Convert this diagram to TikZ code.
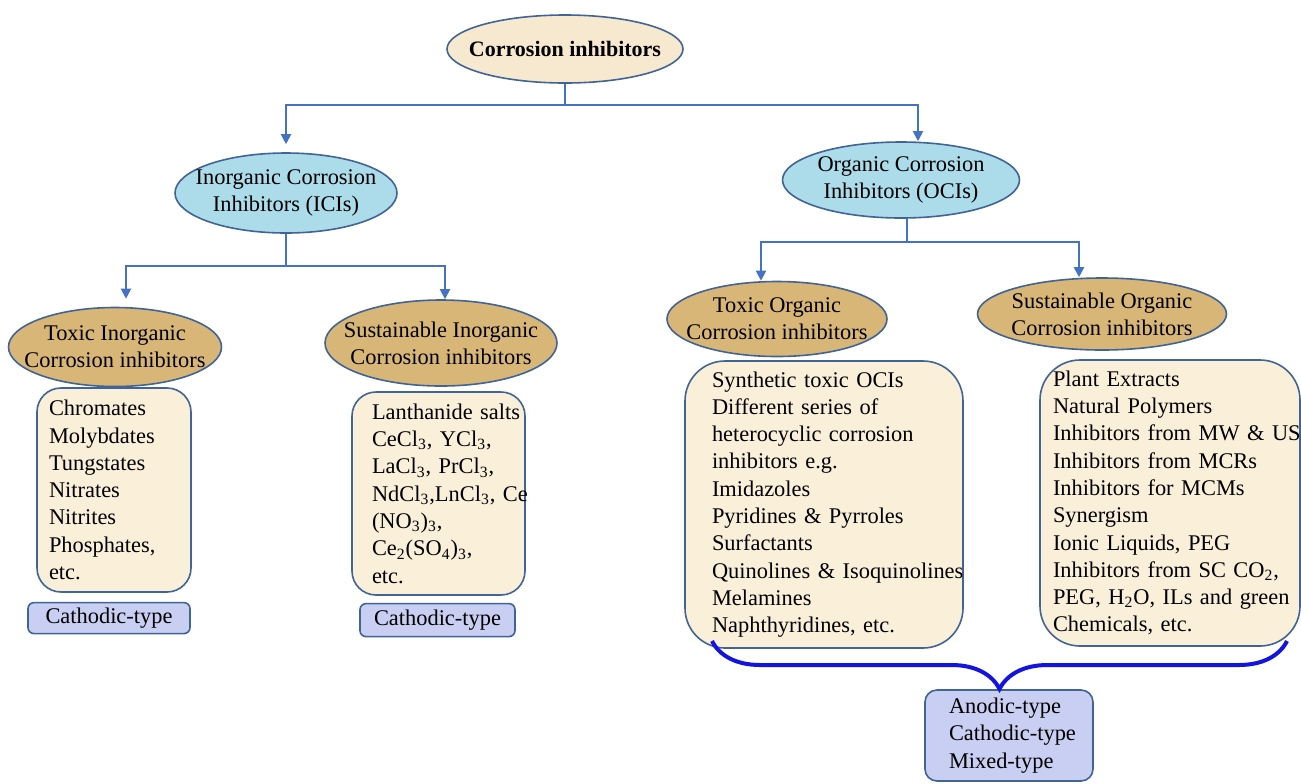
\documentclass[tikz,border=0pt]{standalone}
\usepackage{fontspec}
\setmainfont{Liberation Serif}
\usepackage{tikz}
\usetikzlibrary{
    positioning,      % For placing the type boxes below the lists
    shapes.geometric, % For the ellipse nodes
    decorations.pathreplacing, % For the large brace
    arrows.meta       % For the Triangle arrow tips
}

\definecolor{linkblue}{RGB}{68,114,196}
\definecolor{rimblue}{RGB}{65,100,150}
\definecolor{rootfill}{RGB}{247,233,207}
\definecolor{paleblue}{RGB}{172,220,233}
\definecolor{tanfill}{RGB}{216,182,120}
\definecolor{parchment}{RGB}{250,239,217}
\definecolor{lavender}{RGB}{200,207,242}
\definecolor{bracecol}{RGB}{20,20,225}

\begin{document}
\begin{tikzpicture}[
    x=0.5pt, y=-0.5pt,
    % Global text settings
    every node/.style={font=\fontsize{11.2}{13.65}\selectfont},
    % Style for all ellipses
    ellip_style/.style={
        ellipse, draw=rimblue, line width=0.8pt,
        inner xsep=-12pt, inner ysep=-4pt, align=center
    },
    % Light blue ellipses (second level)
    blue_ellip/.style={ellip_style, fill=paleblue},
    % Tan ellipses (third level)
    tan_ellip/.style={ellip_style, fill=tanfill},
    % Style for the rounded list boxes
    list_style/.style={
        draw=rimblue, line width=0.8pt, fill=parchment,
        align=left, inner ysep=0pt
    },
    % Style for the small type boxes
    type_style/.style={
        draw=rimblue, line width=0.8pt, fill=lavender,
        rounded corners=3pt, inner sep=0pt
    },
    % Connector lines
    link_style/.style={
        color=linkblue, line width=1pt
    },
    % Style for arrowheads
    arrow_tip/.style={
        -{Triangle[length=5pt, width=5pt]}
    },
    % Style for the brace
    brace_style/.style={
        color=bracecol, line width=2pt
    }
]
    \useasboundingbox[fill=white] (0,0) rectangle (1301,783);

    % 1. The ellipses.
    \node[ellip_style, fill=rootfill, minimum width=118pt, minimum height=34pt,
          font=\fontsize{11}{13}\selectfont\bfseries] (root) at (565,49) {Corrosion inhibitors};
    \node[blue_ellip, minimum width=111pt, minimum height=40pt] (ici) at (286,193)
        {Inorganic Corrosion\\Inhibitors (ICIs)};
    \node[blue_ellip, minimum width=118.5pt, minimum height=38pt] (oci) at (901,180)
        {Organic Corrosion\\Inhibitors (OCIs)};
    \node[tan_ellip, minimum width=106.5pt, minimum height=39.5pt] (tiEl) at (115,347)
        {Toxic Inorganic\\Corrosion inhibitors};
    \node[tan_ellip, minimum width=116pt, minimum height=43pt] (siEl) at (441,343)
        {Sustainable Inorganic\\Corrosion inhibitors};
    \node[tan_ellip, minimum width=110pt, minimum height=37.5pt] (toEl) at (777,319)
        {Toxic Organic\\Corrosion inhibitors};
    \node[tan_ellip, minimum width=124.5pt, minimum height=36pt] (soEl) at (1102,314)
        {Sustainable Organic\\Corrosion inhibitors};

    % 2. The lists.
    \node[list_style, rounded corners=12pt, text width=65pt, inner xsep=6pt,
          minimum height=102pt] (tiList) at (114,490)
        {Chromates\\Molybdates\\Tungstates\\Nitrates\\Nitrites\\Phosphates,\\etc.};
    \node[list_style, rounded corners=12pt, text width=66.5pt, inner xsep=10pt,
          minimum height=101.5pt] (siList) at (438.5,493.5)
        {\mbox{Lanthanide salts}\\
         CeCl\textsubscript{3}, YCl\textsubscript{3},\\
         LaCl\textsubscript{3}, PrCl\textsubscript{3},\\
         \mbox{NdCl\textsubscript{3},LnCl\textsubscript{3}, Ce}\\
         (NO\textsubscript{3})\textsubscript{3},\\
         Ce\textsubscript{2}(SO\textsubscript{4})\textsubscript{3},\\
         etc.};
    \node[list_style, rounded corners=20pt, text width=112pt, inner xsep=13.5pt,
          minimum height=143.5pt] (toList) at (824,504.5)
        {Synthetic toxic OCIs\\Different series of\\\mbox{heterocyclic corrosion}\\
         inhibitors e.g.\\Imidazoles\\Pyridines \& Pyrroles\\Surfactants\\
         \mbox{Quinolines \& Isoquinolines}\\Melamines\\Naphthyridines, etc.};
    \node[list_style, rounded corners=20pt, text width=117pt, inner xsep=6.5pt,
          minimum height=143pt] (soList) at (1170,503)
        {Plant Extracts\\Natural Polymers\\\mbox{Inhibitors from MW \& US}\\
         Inhibitors from MCRs\\Inhibitors for MCMs\\Synergism\\Ionic Liquids, PEG\\
         \mbox{Inhibitors from SC CO\textsubscript{2},}\\
         \mbox{PEG, H\textsubscript{2}O, ILs and green}\\Chemicals, etc.};

    % 3. The type boxes.
    \node[type_style, minimum width=81pt, minimum height=15.5pt,
          below=4.5pt of tiList, xshift=-2.5pt] (tiType) {Cathodic-type};
    \node[type_style, minimum width=77.5pt, minimum height=16.5pt,
          below=3.5pt of siList, xshift=-0.5pt] (siType) {Cathodic-type};
    \node[type_style, rounded corners=6pt, align=left, text width=60pt, inner xsep=12pt,
          minimum height=45.5pt] (modeBox) at (1009,735.5)
        {Anodic-type\\\mbox{Cathodic-type}\\Mixed-type};

    % 4. The tree connectors.
    \coordinate (rootFork) at (565,105);
    \draw[link_style] (root.south) -- (rootFork);
    \draw[link_style, arrow_tip, shorten >=4pt] (rootFork) -| (ici.north);
    \draw[link_style, arrow_tip] (rootFork) -| ([xshift=8.5pt]oci.north);

    \coordinate (iciFork) at (ici.south |- 0,266);
    \draw[link_style] (ici.south) -- (iciFork);
    \draw[link_style, arrow_tip, shorten >=4pt] (iciFork) -| ([xshift=5.5pt]tiEl.north);
    \draw[link_style, arrow_tip] (iciFork) -| ([xshift=2pt]siEl.north);

    \coordinate (ociStem) at ([xshift=3pt]oci.south);
    \coordinate (ociFork) at (ociStem |- 0,242);
    \draw[link_style] (ociStem) -- (ociFork);
    \draw[link_style, arrow_tip] (ociFork) -| ([xshift=-8pt]toEl.north);
    \draw[link_style, arrow_tip] (ociFork) -| ([xshift=-11.5pt]soEl.north);

    % 5. The brace that joins the organic lists to the type box.
    \coordinate (braceL) at (712,641);
    \coordinate (braceR) at (1287,641);
    \draw[brace_style, decorate, decoration={brace, amplitude=24pt, mirror}]
        (braceL) -- (braceR);

\end{tikzpicture}
\end{document}
